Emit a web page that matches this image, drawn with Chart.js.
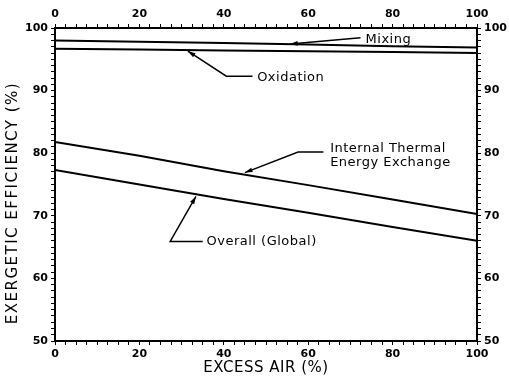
<!DOCTYPE html>
<html>
<head>
<meta charset="utf-8">
<script src="https://cdn.jsdelivr.net/npm/chart.js@4"></script>
<style>
  html, body { margin: 0; padding: 0; background: #fff; }
  #wrap { width: 509px; height: 380px; }
</style>
</head>
<body>
<div id="wrap"><canvas id="chart" width="509" height="380"></canvas></div>
<script>
// excess air (%) and exergetic efficiency (%)
var excessAir = [0, 20, 40, 60, 80, 100];
var mixing = [98.0, 97.8, 97.6, 97.35, 97.1, 96.9];
var oxidation = [96.7, 96.55, 96.4, 96.3, 96.15, 96.0];
var internalExchange = [81.8, 79.6, 77.1, 74.9, 72.6, 70.3];
var overall = [77.3, 75.0, 72.7, 70.5, 68.2, 66.0];

var xTitle = 'EXCESS AIR (%)';
var yTitle = 'EXERGETIC EFFICIENCY (%)';

// labels with their leader lines, in data units
var notes = [
    { text: ['Mixing'], at: [73.6, 98.1], path: [[72.4, 98.45], [55.7, 97.45]] },
    { text: ['Oxidation'], at: [47.9, 92.0], path: [[46.8, 92.3], [40.6, 92.3], [31.5, 96.3]] },
    { text: ['Internal Thermal', 'Energy Exchange'], at: [65.2, 80.7], path: [[63.6, 80.2], [57.6, 80.2], [45.0, 76.9]] },
    { text: ['Overall (Global)'], at: [35.9, 65.9], path: [[35.0, 65.9], [27.3, 65.9], [33.4, 73.1]] }
];

function pts(ys) {
    return ys.map(function(y, i) { return { x: excessAir[i], y: y }; });
}

var tickFont = { family: 'DejaVu Sans', size: 11, weight: 'bold' };

var notesPlugin = {
    id: 'notes',
    afterDatasetsDraw: function(chart) {
        var ctx = chart.ctx, xs = chart.scales.x, ys = chart.scales.y;
        ctx.save();
        ctx.strokeStyle = '#000';
        ctx.fillStyle = '#000';
        ctx.lineWidth = 1.5;
        notes.forEach(function(n) {
            var p = n.path.map(function(q) { return [xs.getPixelForValue(q[0]), ys.getPixelForValue(q[1])]; });
            ctx.beginPath();
            ctx.moveTo(p[0][0], p[0][1]);
            for (var i = 1; i < p.length; i++) ctx.lineTo(p[i][0], p[i][1]);
            ctx.stroke();
            // arrow head at the last point
            var a = p[p.length - 1], b = p[p.length - 2];
            var ang = Math.atan2(a[1] - b[1], a[0] - b[0]);
            ctx.beginPath();
            ctx.moveTo(a[0], a[1]);
            ctx.lineTo(a[0] - 8 * Math.cos(ang - 0.3), a[1] - 8 * Math.sin(ang - 0.3));
            ctx.lineTo(a[0] - 8 * Math.cos(ang + 0.3), a[1] - 8 * Math.sin(ang + 0.3));
            ctx.closePath();
            ctx.fill();
            ctx.font = '13px "DejaVu Sans"';
            ctx.letterSpacing = '0.5px';
            ctx.textAlign = 'left';
            ctx.textBaseline = 'middle';
            var tx = xs.getPixelForValue(n.at[0]), ty = ys.getPixelForValue(n.at[1]);
            n.text.forEach(function(t, k) { ctx.fillText(t, tx, ty + k * 14); });
        });

        // axis titles, wider set than chart.js allows
        ctx.font = '15px "DejaVu Sans"';
        ctx.textAlign = 'center';
        ctx.textBaseline = 'middle';
        ctx.letterSpacing = '0.5px';
        ctx.fillText(xTitle, (xs.left + xs.right) / 2, 368);
        ctx.letterSpacing = '1.5px';
        ctx.translate(13, 203);
        ctx.rotate(-Math.PI / 2);
        ctx.fillText(yTitle, 0, 0);
        ctx.restore();
    }
};

function xAxis(pos, h) {
    return {
        type: 'linear', position: pos, min: 0, max: 100,
        ticks: { stepSize: 2.5, autoSkip: false, maxRotation: 0, padding: 3, color: '#000', font: tickFont,
            callback: function(v) { return v % 20 === 0 ? v : ''; } },
        grid: { drawOnChartArea: false, tickLength: 4, color: '#000' },
        border: { color: '#000', width: 2 },
        afterFit: function(s) { s.height = h; }
    };
}

function yAxis(pos, w) {
    return {
        type: 'linear', position: pos, min: 50, max: 100,
        ticks: { stepSize: 1, autoSkip: false, padding: 3, color: '#000', font: tickFont,
            callback: function(v) { return v % 10 === 0 ? v : ''; } },
        grid: { drawOnChartArea: false, tickLength: 4, color: '#000' },
        border: { color: '#000', width: 2 },
        afterFit: function(s) { s.width = w; }
    };
}

var lineStyle = { borderColor: '#000', borderWidth: 2, pointRadius: 0, tension: 0, fill: false };

new Chart(document.getElementById('chart').getContext('2d'), {
    type: 'line',
    data: {
        datasets: [
            Object.assign({ label: 'Mixing', data: pts(mixing) }, lineStyle),
            Object.assign({ label: 'Oxidation', data: pts(oxidation) }, lineStyle),
            Object.assign({ label: 'Internal Thermal Energy Exchange', data: pts(internalExchange) }, lineStyle),
            Object.assign({ label: 'Overall (Global)', data: pts(overall) }, lineStyle)
        ]
    },
    options: {
        responsive: false,
        animation: false,
        layout: { padding: 0 },
        plugins: { legend: { display: false }, tooltip: { enabled: false } },
        scales: {
            x: xAxis('bottom', 39),
            x2: xAxis('top', 28),
            y: yAxis('left', 55),
            y2: yAxis('right', 32)
        }
    },
    plugins: [notesPlugin]
});
</script>
</body>
</html>
